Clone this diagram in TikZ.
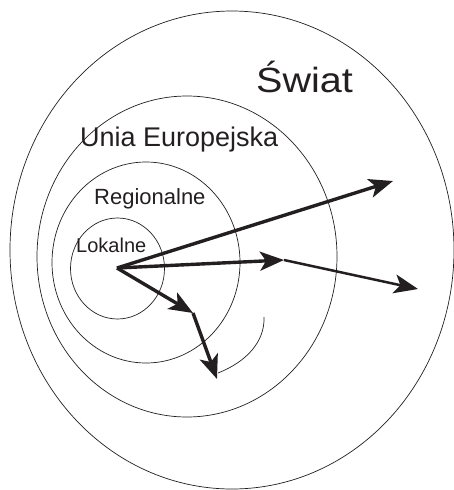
\documentclass[tikz,border=0pt]{standalone}
\usepackage{fontspec}
\setmainfont{Liberation Sans}
\usetikzlibrary{arrows.meta}
\definecolor{ink}{RGB}{35,31,32}
\tikzset{
  ring/.style={draw=ink, line width=0.7pt},
  bigarrow/.style={draw=ink, line width=3.4pt, -{Stealth[length=24pt,width=19pt,inset=6pt]}},
  midarrow/.style={draw=ink, line width=2.5pt, -{Stealth[length=24pt,width=19pt,inset=6pt]}},
  lbl/.style={inner sep=0pt, anchor=base west, text=ink},
}
\begin{document}
\begin{tikzpicture}[x=1pt,y=-1pt]
\useasboundingbox (0,0) rectangle (454,490);
% rings
\draw[ring] (232,250) ellipse [x radius=222pt, y radius=239pt];
\draw[ring] (187,256.5) ellipse [x radius=150pt, y radius=160.5pt];
\draw[ring] (146,262.5) ellipse [x radius=94pt, y radius=100.5pt];
\draw[ring] (117.5,268.5) ellipse [x radius=47pt, y radius=50.5pt];
% labels
\node[lbl, font=\fontsize{35}{40}\selectfont] (swiat) at (256,92) {\scalebox{1.13}[1]{Świat}};
\node[lbl, font=\fontsize{27}{31}\selectfont] (unia) at (80,146) {Unia Europejska};
\node[lbl, font=\fontsize{22}{26}\selectfont] (reg) at (94,204) {Regionalne};
\node[lbl, font=\fontsize{20}{24}\selectfont] (lok) at (76,252) {Lokalne};
% points
\coordinate (O) at (117,268);
\coordinate (A1) at (393,181);
\coordinate (A2) at (284,260);
\coordinate (A3) at (418,289);
\coordinate (A4) at (193,313);
\coordinate (A5) at (217,379);
\coordinate (C1) at (264,317);
\coordinate (C2) at (218,373);
% arrows
\draw[bigarrow] (O) -- (A1);
\draw[bigarrow] (O) -- (A2);
\draw[midarrow] (A2) -- (A3);
\draw[bigarrow] (O) -- (A4);
\draw[bigarrow] (A4) -- (A5);
\draw[ring] (C1) .. controls (265,342) and (246,362) .. (C2);
\end{tikzpicture}
\end{document}
